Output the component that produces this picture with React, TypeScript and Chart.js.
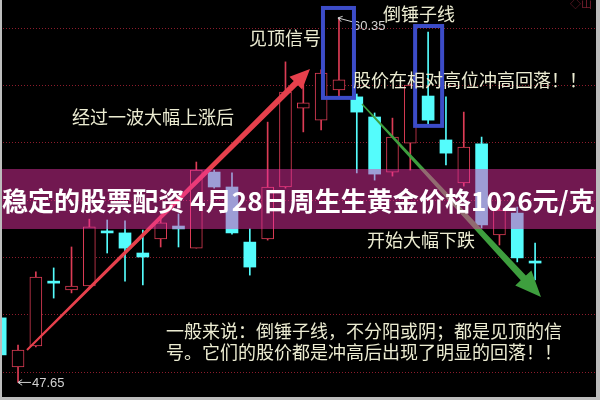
import React, { useEffect, useRef } from 'react';
import { Chart, registerables } from 'chart.js';

Chart.register(...registerables);

// ---- data ----
const slots = [0, 1, 2, 3, 4, 5, 6, 7, 8, 9, 10, 11, 12, 13, 14, 15, 16, 17, 18, 19, 20, 21, 22, 23, 24, 25, 26, 27, 28, 29, 30];
const opens = [49.9, 48.19, 48.92, 51.18, 50.87, 51.01, 52.93, 52.86, 52.16, 52.65, 53.1, 52.33, 54.98, 54.46, 52.54, 52.65, 54.46, 57.21, 56.79, 57.84, 57.6, 56.9, 54.98, 55.99, 57.63, 56.1, 54.6, 55.96, 52.79, 53.55, 51.88];
const highs = [50.1, 48.95, 51.5, 51.64, 52.37, 53.34, 53.31, 53.28, 52.96, 53.48, 53.52, 55.33, 55.05, 54.95, 53.0, 56.72, 58.82, 58.12, 58.54, 60.35, 57.7, 57.04, 56.86, 58.05, 59.86, 57.6, 57.07, 56.2, 54.01, 53.76, 52.51];
const lows = [48.43, 47.65, 48.89, 50.59, 50.77, 51.01, 52.16, 51.18, 51.05, 52.37, 52.37, 52.33, 54.42, 52.82, 51.39, 52.61, 54.42, 56.38, 56.45, 57.6, 54.95, 54.7, 54.84, 55.05, 56.59, 55.23, 54.49, 53.03, 52.44, 51.85, 51.22];
const closes = [48.61, 48.78, 51.32, 51.11, 51.01, 53.07, 52.86, 52.33, 52.02, 53.21, 53.0, 55.05, 54.46, 52.86, 51.67, 54.46, 57.77, 57.39, 58.43, 58.19, 57.07, 54.91, 56.2, 58.01, 56.79, 55.64, 55.85, 53.14, 53.66, 51.99, 51.81];
const gridValues = [48, 50, 52, 54, 56, 58, 60];
const boxedSlots = [19, 24];

const titleText = '稳定的股票配资 4月28日周生生黄金价格1026元/克';
const noteRise = '经过一波大幅上涨后';
const noteTopSignal = '见顶信号';
const noteHammer = '倒锤子线';
const noteHigh = '股价在相对高位冲高回落！！';
const noteFall = '开始大幅下跌';
const noteLine1 = '一般来说：倒锤子线，不分阳或阴；都是见顶的信';
const noteLine2 = '号。它们的股价都是冲高后出现了明显的回落！！';

const UP = '#dc3c55';
const DOWN = '#54fcfc';
const NOTE = '#ececd2';
const CJK = '"Noto Sans CJK SC", "Noto Sans", sans-serif';

const isUp = slots.map((i) => closes[i] > opens[i]);

function taperArrow(ctx: CanvasRenderingContext2D, x0: number, y0: number, x1: number, y1: number, w0: number, w1: number, headLen: number, headHalf: number, color: string) {
  const dx = x1 - x0, dy = y1 - y0, L = Math.hypot(dx, dy);
  const ux = dx / L, uy = dy / L, nx = -uy, ny = ux;
  const bx = x1 - ux * headLen, by = y1 - uy * headLen;
  ctx.beginPath();
  ctx.moveTo(x0 + nx * w0 / 2, y0 + ny * w0 / 2);
  ctx.lineTo(bx + nx * w1 / 2, by + ny * w1 / 2);
  ctx.lineTo(bx + nx * headHalf, by + ny * headHalf);
  ctx.lineTo(x1, y1);
  ctx.lineTo(bx - nx * headHalf, by - ny * headHalf);
  ctx.lineTo(bx - nx * w1 / 2, by - ny * w1 / 2);
  ctx.lineTo(x0 - nx * w0 / 2, y0 - ny * w0 / 2);
  ctx.closePath();
  ctx.fillStyle = color;
  ctx.fill();
}

function smallArrow(ctx: CanvasRenderingContext2D, tx: number, ty: number, hx: number, hy: number, color: string) {
  const dx = hx - tx, dy = hy - ty, L = Math.hypot(dx, dy);
  const ux = dx / L, uy = dy / L;
  ctx.strokeStyle = color;
  ctx.lineWidth = 1;
  ctx.beginPath();
  ctx.moveTo(tx, ty);
  ctx.lineTo(hx, hy);
  const a = 0.6, len = 5;
  for (const s of [a, -a]) {
    const c = Math.cos(s), sn = Math.sin(s);
    const rx = -(ux * c - uy * sn), ry = -(ux * sn + uy * c);
    ctx.moveTo(hx, hy);
    ctx.lineTo(hx + rx * len, hy + ry * len);
  }
  ctx.stroke();
}

const bgPlugin = {
  id: 'bg',
  beforeDraw(chart: any) {
    const ctx = chart.ctx;
    ctx.save();
    ctx.fillStyle = '#000000';
    ctx.fillRect(0, 0, chart.width, chart.height);
    ctx.restore();
  },
};

const notePlugin = {
  id: 'notes',
  afterDraw(chart: any) {
    const ctx: CanvasRenderingContext2D = chart.ctx;
    const xs = chart.scales.x, ys = chart.scales.y;
    ctx.save();

    // arrows
    taperArrow(ctx, 27, 350, 310, 69, 2, 6, 20, 9, '#e6404c');
    taperArrow(ctx, 362, 104, 541, 297, 1.5, 7, 26, 11, '#3e9e3e');

    // price labels
    ctx.font = '13px "Liberation Sans", Arial, sans-serif';
    ctx.fillStyle = '#d2d2d2';
    ctx.textBaseline = 'middle';
    const hiIdx = highs.indexOf(Math.max(...highs));
    const loIdx = lows.indexOf(Math.min(...lows));
    const hx = xs.getPixelForValue(slots[hiIdx]);
    const hy = ys.getPixelForValue(highs[hiIdx]);
    smallArrow(ctx, hx + 14, hy + 4, hx - 1, hy, '#d2d2d2');
    ctx.fillText(highs[hiIdx].toFixed(2), hx + 14, hy + 8);
    const lx = xs.getPixelForValue(slots[loIdx]);
    const ly = ys.getPixelForValue(lows[loIdx]);
    smallArrow(ctx, lx + 13, ly, lx, ly, '#d2d2d2');
    ctx.fillText(lows[loIdx].toFixed(2), lx + 14, ly + 1);

    // blue boxes
    ctx.strokeStyle = '#3c4cc8';
    ctx.lineWidth = 4;
    const boxPad = [[-16, 15, -10, 1], [-13, 14, -6, 0]];
    boxedSlots.forEach((s, k) => {
      const cx = xs.getPixelForValue(s);
      const top = ys.getPixelForValue(highs[s]);
      const bot = ys.getPixelForValue(lows[s]);
      const p = boxPad[k];
      ctx.strokeRect(cx + p[0], top + p[2], p[1] - p[0], bot + p[3] - (top + p[2]));
    });

    // notes
    ctx.font = `18px ${CJK}`;
    ctx.fillStyle = NOTE;
    ctx.textBaseline = 'middle';
    ctx.fillText(noteRise, 72, 117);
    ctx.fillText(noteTopSignal, 249, 38);
    ctx.fillText(noteHammer, 383, 14);
    ctx.fillText(noteHigh, 353, 80);
    ctx.fillText(noteFall, 367, 240);
    ctx.fillText(noteLine1, 166, 331);
    ctx.fillText(noteLine2, 166, 352);

    // banner
    ctx.fillStyle = 'rgba(240,50,170,0.47)';
    ctx.fillRect(0, 169, chart.width, 60);
    ctx.font = `bold 26px ${CJK}`;
    const w = ctx.measureText(titleText).width;
    const size = 26 * 593 / w;
    ctx.font = `bold ${size.toFixed(2)}px ${CJK}`;
    ctx.fillStyle = '#ffffff';
    ctx.fillText(titleText, 2, 201);

    // logo
    ctx.font = `11px ${CJK}`;
    ctx.fillStyle = '#7a2030';
    ctx.fillText('◇山', 570, 4);

    // frame
    ctx.fillStyle = '#bdbdbd';
    ctx.fillRect(0, 0, 2, chart.height);
    ctx.fillRect(chart.width - 4, 0, 4, chart.height);
    ctx.fillRect(0, chart.height - 3, chart.width, 3);
    ctx.restore();
  },
};

export default function App() {
  const ref = useRef<HTMLCanvasElement>(null);
  useEffect(() => {
    const bodies = slots.map((i) => ({ x: i, y: [opens[i], closes[i]] }));
    const wicks = slots.map((i) => ({ x: i, y: [lows[i], highs[i]] }));
    const chart = new Chart(ref.current as HTMLCanvasElement, {
      type: 'bar',
      data: {
        datasets: [
          {
            label: 'body',
            data: bodies as any,
            backgroundColor: slots.map((i) => (isUp[i] ? '#000000' : DOWN)),
            borderColor: slots.map((i) => (isUp[i] ? UP : DOWN)),
            borderWidth: slots.map((i) => (isUp[i] ? 1 : 0)),
            borderSkipped: false,
            barThickness: 12,
            grouped: false,
            order: 0,
          },
          {
            label: 'wick',
            data: wicks as any,
            backgroundColor: slots.map((i) => (isUp[i] ? UP : DOWN)),
            borderWidth: 0,
            barThickness: 1,
            grouped: false,
            order: 1,
          },
        ],
      },
      options: {
        animation: false,
        responsive: false,
        devicePixelRatio: 1,
        layout: { padding: 0 },
        plugins: { legend: { display: false }, tooltip: { enabled: false } },
        scales: {
          x: { type: 'linear', min: -0.011, max: 33.64, display: false, offset: false, grid: { offset: false } },
          y: {
            type: 'linear',
            min: 47.038,
            max: 60.976,
            position: 'left',
            ticks: { display: false },
            grid: { color: '#8c1c2c', drawTicks: false, lineWidth: 1 },
            border: { display: false, dash: [1, 2] },
            afterBuildTicks: (s: any) => {
              s.ticks = gridValues.map((v) => ({ value: v }));
            },
            afterFit: (s: any) => {
              s.width = 0;
            },
          },
        },
      } as any,
      plugins: [bgPlugin, notePlugin],
    });
    return () => chart.destroy();
  }, []);
  return (
    <div style={{ position: 'fixed', left: 0, top: 0, width: 600, height: 400, background: '#000' }}>
      <canvas ref={ref} width={600} height={400} style={{ display: 'block', width: 600, height: 400 }} />
    </div>
  );
}
